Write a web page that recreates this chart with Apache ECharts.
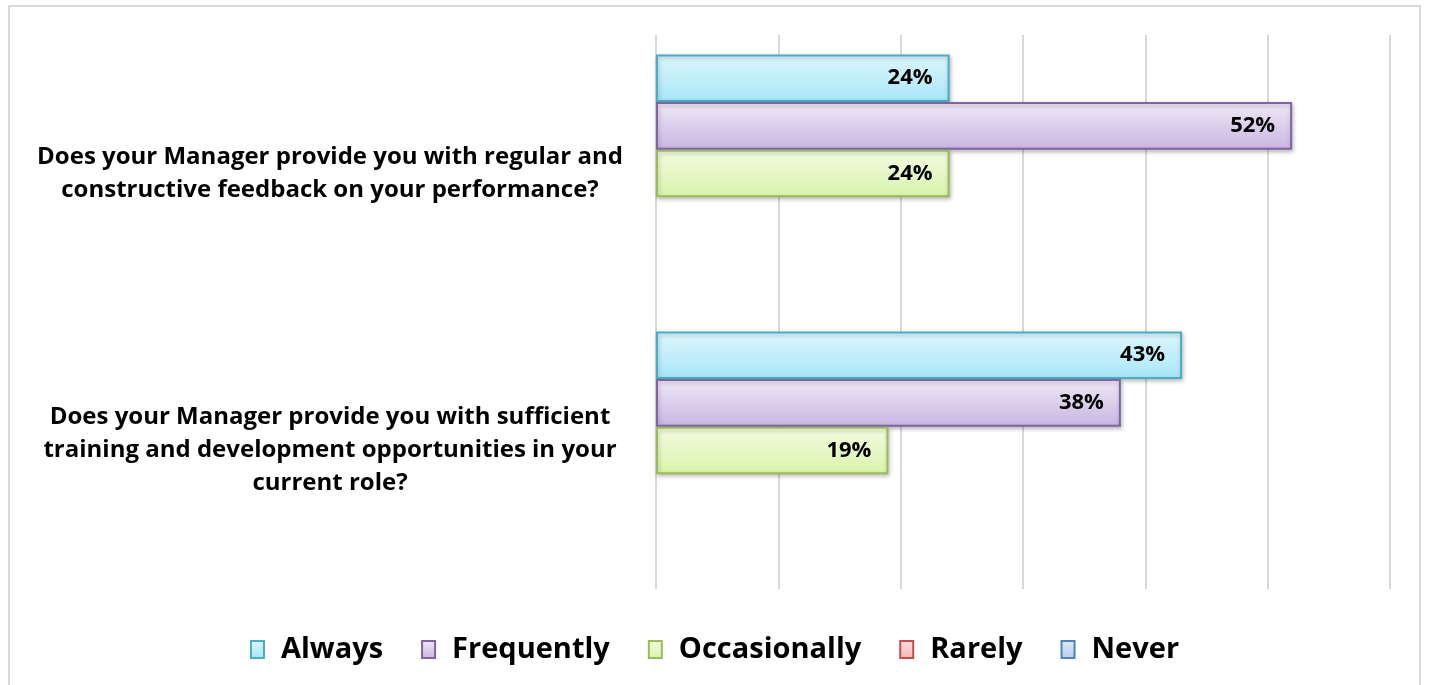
<!DOCTYPE html>
<html>
<head>
<meta charset="utf-8">
<script src="https://cdn.jsdelivr.net/npm/echarts@6/dist/echarts.min.js"></script>
<style>
  html, body { margin: 0; padding: 0; background: #fff; }
  #chart { width: 1429px; height: 685px; }
</style>
</head>
<body>
<div id="chart"></div>
<script>
// Survey questions (top to bottom)
const questions = [
  'Does your Manager provide you with regular and\nconstructive feedback on your performance?',
  'Does your Manager provide you with sufficient\ntraining and development opportunities in your\ncurrent role?'
];
// Response options
const responses = ['Always', 'Frequently', 'Occasionally', 'Rarely', 'Never'];
// Share of answers per response option (%), one entry per question
const always = [24, 43];
const frequently = [52, 38];
const occasionally = [24, 19];
const rarely = [0, 0];
const never = [0, 0];
// Value axis ticks (%)
const axisMin = 0, axisMax = 60, axisStep = 10;

const values = [always, frequently, occasionally, rarely, never];
const palette = [
  { top: '#def7fd', bottom: '#a7e6f7', border: '#4bacc6' },
  { top: '#efe9f6', bottom: '#c8b5e1', border: '#8064a2' },
  { top: '#f3fbe2', bottom: '#d9f4aa', border: '#9bbb59' },
  { top: '#fde2e1', bottom: '#f7b3b1', border: '#c0504d' },
  { top: '#e3ecf8', bottom: '#b3cbea', border: '#4f81bd' }
];
const font = '"Open Sans", Lato, sans-serif';

function grad(p) {
  return new echarts.graphic.LinearGradient(0, 0, 0, 1, [
    { offset: 0, color: p.top },
    { offset: 1, color: p.bottom }
  ]);
}

const series = responses.map((name, i) => ({
  name,
  type: 'bar',
  data: values[i].map(v => (v > 0 ? v : null)),
  barGap: '0%',
  barCategoryGap: '14%',
  itemStyle: {
    color: grad(palette[i]),
    borderColor: palette[i].border,
    borderWidth: 2,
    shadowColor: 'rgba(0,0,0,0.25)',
    shadowBlur: 4,
    shadowOffsetX: 1,
    shadowOffsetY: 2
  },
  label: {
    show: true,
    position: 'insideRight',
    distance: 17,
    formatter: p => (p.value > 0 ? p.value + '%' : ''),
    color: '#000',
    fontFamily: font,
    fontWeight: 'bold',
    fontSize: 22
  }
}));

const chart = echarts.init(document.getElementById('chart'), null, { renderer: 'canvas' });
chart.setOption({
  animation: false,
  backgroundColor: '#fff',
  graphic: [{
    type: 'rect',
    shape: { x: 9, y: 6, width: 1411, height: 720 },
    style: { fill: 'none', stroke: '#d9d9d9', lineWidth: 2 },
    silent: true
  }],
  grid: { left: 656, right: 39, top: 35, bottom: 96, containLabel: false },
  legend: {
    bottom: 16,
    left: 'center',
    itemWidth: 13,
    itemHeight: 17,
    itemGap: 38,
    textStyle: {
      fontFamily: font,
      fontWeight: 'bold',
      fontSize: 29,
      color: '#000',
      padding: [0, 0, 0, 12]
    },
    data: responses.map((name, i) => ({
      name,
      icon: 'rect',
      itemStyle: { color: grad(palette[i]), borderColor: palette[i].border, borderWidth: 2, shadowBlur: 0 }
    }))
  },
  xAxis: {
    type: 'value',
    min: axisMin,
    max: axisMax,
    interval: axisStep,
    axisLine: { show: false },
    axisTick: { show: false },
    axisLabel: { show: false },
    splitLine: { show: true, lineStyle: { color: '#d9d9d9', width: 2 } }
  },
  yAxis: {
    type: 'category',
    inverse: true,
    data: questions,
    axisLine: { show: false },
    axisTick: { show: false },
    axisLabel: {
      align: 'center',
      margin: 326,
      fontFamily: font,
      fontWeight: 'bold',
      fontSize: 24,
      lineHeight: 33,
      color: '#000'
    }
  },
  series
});
</script>
</body>
</html>
